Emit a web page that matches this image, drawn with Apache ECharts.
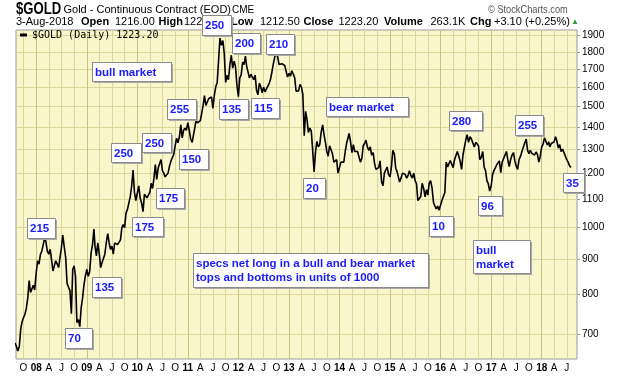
<!DOCTYPE html>
<html>
<head>
<meta charset="utf-8">
<script src="https://cdn.jsdelivr.net/npm/echarts@6/dist/echarts.min.js"></script>
<style>
  html, body { margin: 0; padding: 0; background: #fff; }
  #chart { width: 620px; height: 376px; }
</style>
</head>
<body>
<div id="chart"></div>
<script>
const gold2007 = [ // Aug - Dec
  680, 672, 662, 672, 712, 730, 740, 748, 762, 790, 838, 805, 808, 825, 812
]
const gold2008 = [
  860, 895, 885, 915, 925, 945, 965, 955, 925, 915, 930, 898,
  865, 880, 895, 885, 875, 905, 935, 975, 940, 905, 830, 820,
  810, 750, 870, 880, 850, 728, 735, 718, 765, 790, 825, 850
]
const gold2009 = [
  870, 850, 862, 920, 945, 995, 940, 910, 950, 915, 875, 890,
  890, 915, 950, 980, 950, 930, 940, 915, 950, 955, 945, 945,
  960, 1000, 1010, 1000, 1050, 1062, 1055, 1110, 1150, 1212, 1125, 1095
]
const gold2010 = [
  1100, 1150, 1105, 1085, 1055, 1118, 1120, 1105, 1100, 1125, 1160, 1140,
  1180, 1235, 1175, 1222, 1230, 1256, 1210, 1200, 1185, 1182, 1200, 1228,
  1250, 1245, 1278, 1315, 1348, 1328, 1355, 1410, 1350, 1385, 1395, 1385
]
const gold2011 = [
  1420, 1385, 1345, 1330, 1365, 1400, 1430, 1420, 1425, 1430, 1465, 1505,
  1555, 1505, 1510, 1540, 1530, 1548, 1490, 1555, 1600, 1625, 1750, 1885,
  1840, 1870, 1790, 1625, 1665, 1640, 1725, 1780, 1705, 1745, 1715, 1615
]
const gold2012 = [
  1550, 1650, 1665, 1740, 1725, 1775, 1715, 1710, 1650, 1670, 1660, 1640,
  1665, 1585, 1560, 1620, 1600, 1570, 1600, 1575, 1580, 1605, 1620, 1645,
  1690, 1735, 1775, 1790, 1770, 1725, 1715, 1730, 1730, 1720, 1710, 1655
]
const gold2013 = [
  1675, 1660, 1690, 1670, 1650, 1578, 1575, 1580, 1615, 1600, 1560, 1360,
  1475, 1435, 1375, 1395, 1380, 1295, 1205, 1285, 1335, 1310, 1320, 1375,
  1410, 1365, 1330, 1290, 1270, 1315, 1315, 1280, 1245, 1250, 1255, 1200
]
const gold2014 = [
  1205, 1245, 1240, 1245, 1290, 1325, 1325, 1370, 1335, 1285, 1320, 1290,
  1285, 1290, 1295, 1245, 1260, 1315, 1325, 1340, 1310, 1295, 1310, 1275,
  1285, 1240, 1215, 1215, 1222, 1250, 1165, 1150, 1200, 1200, 1225, 1195
]
const gold2015 = [
  1185, 1225, 1295, 1280, 1220, 1205, 1210, 1165, 1180, 1200, 1205, 1195,
  1180, 1190, 1210, 1190, 1180, 1200, 1170, 1158, 1095, 1090, 1110, 1160,
  1140, 1108, 1135, 1115, 1160, 1170, 1140, 1088, 1075, 1065, 1075, 1060
]
const gold2016 = [
  1060, 1095, 1100, 1125, 1245, 1225, 1232, 1252, 1245, 1222, 1255, 1250,
  1290, 1272, 1250, 1215, 1275, 1270, 1340, 1365, 1330, 1355, 1345, 1340,
  1310, 1330, 1335, 1315, 1255, 1265, 1290, 1225, 1210, 1170, 1158, 1130
]
const gold2017 = [
  1150, 1195, 1210, 1210, 1235, 1237, 1250, 1202, 1245, 1250, 1275, 1290,
  1255, 1226, 1255, 1275, 1285, 1250, 1228, 1215, 1255, 1270, 1290, 1295,
  1328, 1345, 1295, 1280, 1295, 1282, 1275, 1275, 1288, 1278, 1245, 1268
]
const gold2018 = [ // Jan - Aug 1
  1310, 1322, 1350, 1345, 1318, 1332, 1310, 1325, 1330, 1332, 1355, 1335,
  1305, 1320, 1290, 1300, 1300, 1270, 1255, 1245, 1230, 1223
]

const priceTicks = [700, 800, 900, 1000, 1100, 1200, 1300, 1400, 1500, 1600, 1700, 1800, 1900]
const monthLetters = { 3: 'A', 6: 'J', 9: 'O' }

// specs net long, in thousands, at tops and bottoms
const notes = [
  { text: '250', x: 202, y: 15, w: 29, h: 20 },
  { text: '200', x: 232, y: 33, w: 28, h: 20 },
  { text: '210', x: 266, y: 34, w: 28, h: 20 },
  { text: 'bull market', x: 92, y: 62, w: 79, h: 19 },
  { text: '255', x: 167, y: 99, w: 29, h: 20 },
  { text: '135', x: 219, y: 99, w: 29, h: 20 },
  { text: '115', x: 251, y: 98, w: 28, h: 20 },
  { text: '250', x: 142, y: 133, w: 29, h: 19 },
  { text: '250', x: 111, y: 143, w: 30, h: 19 },
  { text: '150', x: 179, y: 149, w: 29, h: 20 },
  { text: '175', x: 156, y: 188, w: 28, h: 20 },
  { text: '175', x: 132, y: 217, w: 31, h: 19 },
  { text: '215', x: 27, y: 218, w: 28, h: 20 },
  { text: '135', x: 92, y: 277, w: 29, h: 20 },
  { text: '70', x: 65, y: 328, w: 27, h: 20 },
  { text: 'bear market', x: 326, y: 97, w: 82, h: 19 },
  { text: '20', x: 303, y: 178, w: 22, h: 20 },
  { text: '280', x: 449, y: 111, w: 33, h: 19 },
  { text: '10', x: 429, y: 216, w: 24, h: 20 },
  { text: '96', x: 478, y: 196, w: 24, h: 19 },
  { text: '255', x: 515, y: 115, w: 28, h: 20 },
  { text: '35', x: 563, y: 173, w: 21, h: 19 },
  { text: 'specs net long in a bull and bear market\ntops and bottoms in units of 1000', x: 193, y: 253, w: 235, h: 34 },
  { text: 'bull\nmarket', x: 473, y: 240, w: 57, h: 33 }
]

// quote line: [text, bold, left]
const quote = [
  ['3-Aug-2018', false, 16], ['Open', true, 81], ['1216.00', false, 115],
  ['High', true, 158.5], ['1225.90', false, 184], ['Low', true, 231],
  ['1212.50', false, 260], ['Close', true, 303.5], ['1223.20', false, 338.5],
  ['Volume', true, 384], ['263.1K', false, 430.5], ['Chg', true, 470],
  ['+3.10 (+0.25%)', false, 494]
]

const font = '"Liberation Sans", Arial, sans-serif'
const gridLight = '#d8d79c'
const gridDark = '#c4c27e'

function buildSeries () {
  const days = [1, 11, 21]
  const years = [
    [2007, 7, gold2007], [2008, 0, gold2008], [2009, 0, gold2009], [2010, 0, gold2010],
    [2011, 0, gold2011], [2012, 0, gold2012], [2013, 0, gold2013], [2014, 0, gold2014],
    [2015, 0, gold2015], [2016, 0, gold2016], [2017, 0, gold2017], [2018, 0, gold2018]
  ]
  let out = []
  years.forEach(([yr, firstMonth, values]) => {
    values.forEach((v, i) => {
      const m = firstMonth + Math.floor(i / 3)
      out.push([new Date(yr, m, days[i % 3]).getTime(), v])
    })
  })
  return out
}

// quarter starts, Oct 2007 - Jul 2018
function quarterTicks () {
  let out = []
  for (let y = 2007; y <= 2018; y++) {
    [0, 3, 6, 9].forEach(m => {
      const t = new Date(y, m, 1).getTime()
      if (t >= new Date(2007, 9, 1).getTime() && t <= new Date(2018, 6, 1).getTime()) out.push(t)
    })
  }
  return out
}

function noteBox (n) {
  return {
    type: 'group',
    x: n.x,
    y: n.y,
    children: [
      { type: 'rect', z: 100, shape: { x: 2, y: 2, width: n.w, height: n.h }, style: { fill: '#a8a8a8' } },
      { type: 'rect', z: 101, shape: { x: 0.5, y: 0.5, width: n.w, height: n.h }, style: { fill: '#fff', stroke: '#8a8a8a', lineWidth: 1 } },
      {
        type: 'text', z: 102, x: 3, y: n.h / 2 + 1,
        style: { text: n.text, font: 'bold 11.5px ' + font, fill: '#1a1aff', verticalAlign: 'middle', lineHeight: 14 }
      }
    ]
  }
}

function headerText (text, x, y, fnt, extra) {
  return Object.assign({
    type: 'text', x, y, z: 50,
    style: { text, font: fnt, fill: '#000', verticalAlign: 'middle' }
  }, extra || {})
}

const chart = echarts.init(document.getElementById('chart'))
const ticksX = quarterTicks()

const header = [
  headerText('$GOLD', 16, 9.5, 'bold 16px ' + font, { scaleX: 0.82 }),
  headerText('Gold - Continuous Contract (EOD)', 63.5, 10, '11px ' + font),
  headerText('CME', 232, 10.5, '10px ' + font),
  headerText('\u00a9 StockCharts.com', 488, 10, '10.5px ' + font, { scaleX: 0.88 }),
  headerText('\u25b2', 571, 22, '8px ' + font)
].concat(quote.map(q => headerText(q[0], q[2], 21.5, (q[1] ? 'bold ' : '') + '11px ' + font)))
header[3].style.fill = '#555'
header[4].style.fill = '#2e9b2e'

const option = {
  animation: false,
  backgroundColor: '#fff',
  grid: {
    left: 16, top: 30, width: 561, height: 329,
    show: true, backgroundColor: '#f8f6ca', borderColor: '#9a9a9a', borderWidth: 1
  },
  legend: {
    left: 20, top: 30, padding: 0,
    icon: 'rect', itemWidth: 7, itemHeight: 3,
    textStyle: { fontFamily: '"DejaVu Sans Mono", monospace', fontSize: 10, color: '#000' },
    data: ['$GOLD (Daily) 1223.20']
  },
  xAxis: {
    type: 'value',
    min: new Date(2007, 7, 8).getTime(),
    max: new Date(2018, 8, 13).getTime(),
    axisLine: { show: false },
    axisTick: { show: false, customValues: ticksX },
    axisLabel: {
      customValues: ticksX,
      margin: 4,
      fontSize: 10,
      fontFamily: font,
      color: '#000',
      formatter: v => {
        const d = new Date(v)
        const m = d.getMonth()
        return m === 0 ? '{yr|' + String(d.getFullYear()).slice(2) + '}' : monthLetters[m]
      },
      rich: { yr: { fontWeight: 'bold', fontSize: 10, fontFamily: font, color: '#000' } }
    },
    splitLine: {
      show: true,
      lineStyle: { color: [gridLight, gridDark, gridLight, gridLight], width: 1 }
    }
  },
  yAxis: {
    type: 'log',
    position: 'right',
    min: 644.5,
    max: 1936.6,
    axisLine: { show: false },
    axisTick: { show: true, length: 3, customValues: priceTicks, lineStyle: { color: '#999' } },
    axisLabel: {
      customValues: priceTicks, margin: 5, fontSize: 10, fontFamily: font, color: '#000',
      formatter: v => String(Math.round(v))
    },
    splitLine: { show: true, lineStyle: { color: gridLight, width: 1 } }
  },
  series: [{
    name: '$GOLD (Daily) 1223.20',
    type: 'line',
    data: buildSeries(),
    showSymbol: false,
    clip: true,
    color: '#000',
    lineStyle: { color: '#000', width: 1.6 }
  }],
  graphic: header.concat(notes.map(noteBox))
}

chart.setOption(option)
</script>
</body>
</html>
